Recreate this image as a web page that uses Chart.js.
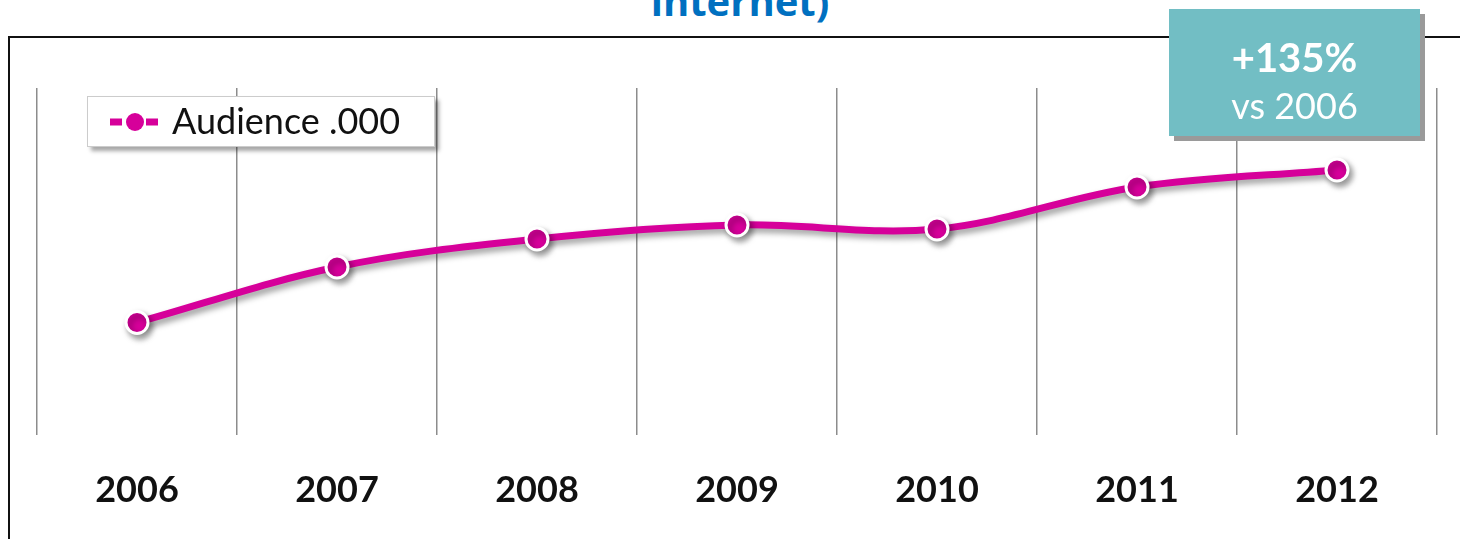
<!DOCTYPE html>
<html>
<head>
<meta charset="utf-8">
<script src="https://cdn.jsdelivr.net/npm/chart.js@4.4.1/dist/chart.umd.min.js"></script>
<style>
    html, body { margin: 0; padding: 0; background: #fff; overflow: hidden; }
    #wrap { position: relative; width: 1460px; height: 539px; overflow: hidden; }
    #marco { position: absolute; left: 8px; top: 36px; width: 1600px; height: 700px; border: 2px solid #111; box-sizing: border-box; }
    #titulo { position: absolute; left: 0; width: 1480px; top: -19px; text-align: center; font: bold 40px "Open Sans", sans-serif; color: #0070C0; line-height: 40px; }
    #grafico { position: absolute; left: 0; top: 0; }
    #leyenda { position: absolute; left: 87px; top: 96px; width: 346px; height: 49px; background: #fff; border: 1px solid #ccc; box-shadow: 4px 4px 4px rgba(0,0,0,0.35); font: 36px Lato, sans-serif; color: #111; }
    #leyenda svg { position: absolute; left: 20px; top: 12px; }
    #leyenda span { position: absolute; left: 84px; top: 3px; line-height: 40px; }
    #nota { position: absolute; left: 1169px; top: 9px; width: 251px; height: 127px; background: #72BEC4; box-shadow: 5px 5px 0 #9a9a9a; color: #fff; text-align: center; font-family: Lato, sans-serif; }
    #nota .pct { position: absolute; left: 0; right: 0; top: 28px; font-weight: bold; font-size: 40px; line-height: 40px; }
    #nota .vs { position: absolute; left: 0; right: 0; top: 76px; font-size: 36px; line-height: 40px; }
</style>
</head>
<body>
<div id="wrap">
    <div id="marco"></div>
    <div id="titulo">internet)</div>
    <canvas id="grafico" width="1460" height="539"></canvas>
    <div id="leyenda"></div>
    <div id="nota"><div class="pct">+135%</div><div class="vs">vs 2006</div></div>
</div>
<script>
// datos
const anios = ['2006', '2007', '2008', '2009', '2010', '2011', '2012'];
const audiencia = [1125, 1680, 1960, 2100, 2060, 2480, 2650];
const etiquetaSerie = 'Audience .000';
const colorSerie = '#D6009A';

const sombra = {
    id: 'sombra',
    beforeDatasetsDraw(chart) {
        const c = chart.ctx;
        c.save();
        c.shadowColor = 'rgba(0,0,0,0.4)';
        c.shadowBlur = 6;
        c.shadowOffsetX = 3;
        c.shadowOffsetY = 4;
    },
    afterDatasetsDraw(chart) {
        chart.ctx.restore();
    }
};

const ctx = document.getElementById('grafico').getContext('2d');
const chart = new Chart(ctx, {
    type: 'line',
    data: {
        labels: anios,
        datasets: [{
            label: etiquetaSerie,
            data: audiencia,
            borderColor: colorSerie,
            backgroundColor: colorSerie,
            borderWidth: 7,
            tension: 0.35,
            pointRadius: 11,
            pointBorderWidth: 3,
            pointBorderColor: '#fff',
            pointBackgroundColor: colorSerie
        }]
    },
    options: {
        responsive: false,
        animation: false,
        layout: { padding: { left: 37, right: 23, top: 88, bottom: 0 } },
        plugins: {
            legend: { display: false },
            tooltip: { enabled: false }
        },
        scales: {
            x: {
                offset: true,
                afterFit: function (scale) { scale.height = 104; },
                grid: { offset: true, color: '#8c8c8c', lineWidth: 1.5, drawTicks: false },
                border: { display: false },
                ticks: { padding: 34, color: '#111', font: { family: 'Lato', size: 36, weight: 'bold' } }
            },
            y: {
                display: false,
                min: 0,
                max: 3470
            }
        }
    },
    plugins: [sombra]
});

// leyenda
const leyenda = document.getElementById('leyenda');
leyenda.innerHTML =
    '<svg width="60" height="26"><line x1="2" y1="13" x2="52" y2="13" stroke="' + colorSerie + '" stroke-width="7" stroke-dasharray="12 6"/>' +
    '<circle cx="27" cy="13" r="9" fill="' + colorSerie + '"/></svg>' +
    '<span>' + etiquetaSerie + '</span>';
</script>
</body>
</html>
